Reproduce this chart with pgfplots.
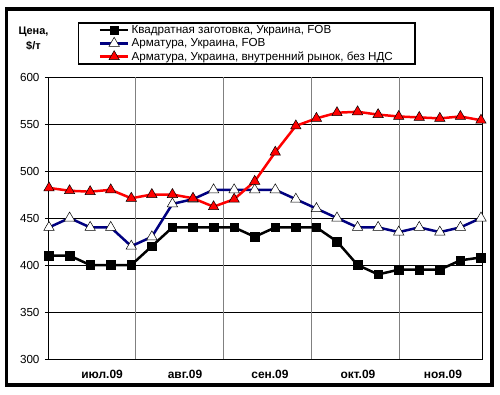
\documentclass[border=0pt]{standalone}
\usepackage{pgfplots}
\pgfplotsset{compat=1.18}
\usepackage{pgfplotstable}
\usepackage{fontspec}
\setmainfont{Liberation Sans}
\definecolor{navy}{RGB}{0,0,128}
\definecolor{gridgray}{RGB}{128,128,128}
\pgfplotstableread{
i black blue red
0 410 440 482
1 410 450 479
2 400 440 478
3 400 440 480
4 400 420 471
5 420 430 475
6 440 465 475
7 440 470 471
8 440 480 462
9 440 480 470
10 430 480 489
11 440 480 520
12 440 470 548
13 440 460 556
14 425 450 562
15 400 440 563
16 390 440 560
17 395 435 558
18 395 440 557
19 395 435 556
20 405 440 558
21 408 450 554
}\prices
\begin{document}
\begin{tikzpicture}
\useasboundingbox (0,0) rectangle (500bp,-395bp);
\draw[line width=3.5bp] (6.5bp,-9bp) rectangle (492bp,-385bp);
\node[font=\fontsize{11}{15}\selectfont\bfseries, align=center] at (33.5bp,-38.5bp) {Цена,\\\$/т};
\begin{axis}[
 at={(48bp,-359bp)}, anchor=south west,
 scale only axis, width=434bp, height=282bp,
 xmin=-0.049, xmax=21.05, ymin=300, ymax=600,
 axis line style={line width=1bp},
 ytick={300,350,...,600},
 ymajorgrids, major grid style={black, line width=0.9bp},
 ytick pos=left, tick align=outside, major tick length=3bp,
 tick style={black, line width=0.9bp},
 yticklabel style={font=\fontsize{11.7}{13}\selectfont, xshift=-2bp},
 /pgf/number format/assume math mode=true,
 xtick={2.58,6.61,10.74,15.02,19.15},
 xticklabels={июл.09,авг.09,сен.09,окт.09,ноя.09},
 x tick style={draw=none},
 xticklabel style={font=\fontsize{12}{14}\selectfont\bfseries, yshift=-5bp},
 extra x ticks={4.229,8.507,12.785,17.063},
 extra x tick labels={},
 extra x tick style={grid=major, major grid style={gridgray, line width=1bp}, major tick length=0pt},
 legend style={at={(0.0691,1.0426)}, anchor=south west, draw=black, line width=1.5bp,
   font=\fontsize{11.7}{13}\selectfont, inner xsep=20bp, inner ysep=0.5bp, row sep=-0.5bp},
 legend cell align=left,
 legend image code/.code={\draw[mark repeat=2,mark phase=2,#1] plot coordinates {(0cm,0cm) (0.5cm,0cm) (1cm,0cm)};},
]
\addplot[black, line width=2.5bp, mark=square*, mark size=4.3bp, mark options={solid, fill=black, line width=0.5bp}] table[x=i,y=black] {\prices};
\addlegendentry{Квадратная заготовка, Украина, FOB}
\addplot[navy, line width=2.5bp, mark=triangle*, mark size=6bp, mark options={solid, fill=white, draw=black, line width=0.5bp}] table[x=i,y=blue] {\prices};
\addlegendentry{Арматура, Украина, FOB}
\addplot[red, line width=2.5bp, mark=triangle*, mark size=6bp, mark options={solid, fill=red, draw=black, line width=0.5bp}] table[x=i,y=red] {\prices};
\addlegendentry{Арматура, Украина, внутренний рынок, без НДС}
\end{axis}
\end{tikzpicture}
\end{document}
